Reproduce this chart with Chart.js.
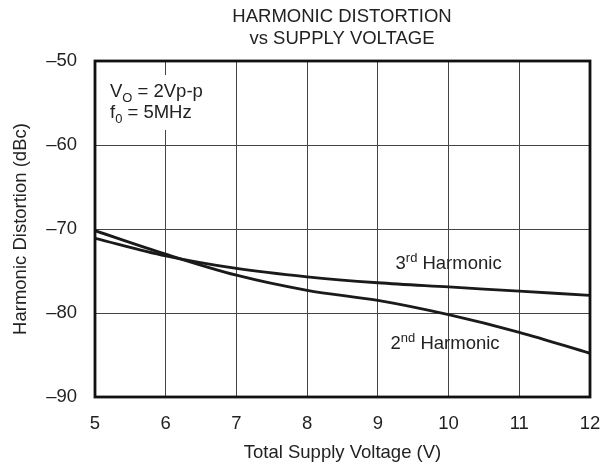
<!DOCTYPE html>
<html>
<head>
<meta charset="utf-8">
<script src="https://cdn.jsdelivr.net/npm/chart.js@4/dist/chart.umd.min.js"></script>
<style>
  html, body { margin: 0; padding: 0; background: #fff; }
  #wrap { width: 605px; height: 468px; }
</style>
</head>
<body>
<div id="wrap"><canvas id="c" width="605" height="468"></canvas></div>
<script>
const FONT = "'Liberation Sans', Arial, sans-serif";
const FS = 18.5;

// supply voltage (V)
const voltages = [5, 6, 7, 8, 9, 10, 11, 12];
// harmonic distortion (dBc)
const secondHarmonic = [-70.2, -73.0, -75.5, -77.3, -78.5, -80.2, -82.3, -84.8];
const thirdHarmonic  = [-71.1, -73.2, -74.7, -75.7, -76.4, -76.9, -77.4, -77.9];
const yTicks = [-50, -60, -70, -80, -90];

const titleLines = ['HARMONIC DISTORTION', 'vs SUPPLY VOLTAGE'];

const lineStyle = { borderColor: '#1a1a1a', borderWidth: 2.8, pointRadius: 0, fill: false, cubicInterpolationMode: 'monotone' };

// text with a raised (superscript) or lowered (subscript) piece: parts = [[text, shifted], ...]
function drawRich(ctx, parts, x, y, size, dir) {
  let cx = x;
  for (const [txt, shifted] of parts) {
    ctx.font = `${shifted ? size * 0.7 : size}px ${FONT}`;
    ctx.fillText(txt, cx, shifted ? y + dir * size * 0.33 : y);
    cx += ctx.measureText(txt).width;
  }
}

const decor = {
  id: 'decor',
  beforeDatasetsDraw(chart) {
    const { ctx } = chart;
    // white backing behind the conditions note
    ctx.save();
    ctx.fillStyle = '#fff';
    ctx.fillRect(104, 75, 108, 55);
    ctx.restore();
  },
  afterDraw(chart) {
    const { ctx, chartArea: a, scales } = chart;
    ctx.save();
    ctx.strokeStyle = '#111';
    ctx.lineWidth = 2.8;
    ctx.strokeRect(a.left, a.top, a.right - a.left, a.bottom - a.top);

    ctx.fillStyle = '#222';
    ctx.textBaseline = 'middle';
    ctx.textAlign = 'center';
    ctx.font = `${FS}px ${FONT}`;
    ctx.fillText(titleLines[0], 342, 17);
    ctx.fillText(titleLines[1], 342, 39);

    ctx.textAlign = 'left';
    drawRich(ctx, [['V', false], ['O', true], [' = 2Vp-p', false]], 110, 92, FS, 1);
    drawRich(ctx, [['f', false], ['0', true], [' = 5MHz', false]], 110, 113, FS, 1);

    const x = scales.x, y = scales.y;
    drawRich(ctx, [['3', false], ['rd', true], [' Harmonic', false]], x.getPixelForValue(9.25), y.getPixelForValue(-74.2), FS, -1);
    drawRich(ctx, [['2', false], ['nd', true], [' Harmonic', false]], x.getPixelForValue(9.18), y.getPixelForValue(-83.7), FS, -1);
    ctx.restore();
  }
};

new Chart(document.getElementById('c'), {
  type: 'line',
  data: {
    datasets: [
      { label: '2nd Harmonic', data: voltages.map((v, i) => ({ x: v, y: secondHarmonic[i] })), ...lineStyle },
      { label: '3rd Harmonic', data: voltages.map((v, i) => ({ x: v, y: thirdHarmonic[i] })), ...lineStyle },
    ],
  },
  options: {
    responsive: false,
    animation: false,
    layout: { padding: { top: 61, right: 15, left: 0, bottom: 0 } },
    plugins: { legend: { display: false }, tooltip: { enabled: false }, title: { display: false } },
    scales: {
      x: {
        type: 'linear', min: 5, max: 12,
        afterFit: (s) => { s.height = 71; s.paddingLeft = 0; s.paddingRight = 0; },
        afterBuildTicks: (s) => { s.ticks = voltages.map(v => ({ value: v })); },
        grid: { color: '#444', lineWidth: 1, drawTicks: false },
        border: { display: false },
        ticks: { color: '#222', font: { size: FS, family: FONT }, padding: 16, maxRotation: 0 },
        title: { display: true, text: 'Total Supply Voltage (V)', color: '#222', font: { size: FS, family: FONT }, padding: { top: 0, bottom: 4 } },
      },
      y: {
        min: -90, max: -50,
        afterFit: (s) => { s.width = 95; s.paddingTop = 0; s.paddingBottom = 0; },
        afterBuildTicks: (s) => { s.ticks = yTicks.map(v => ({ value: v })); },
        grid: { color: '#444', lineWidth: 1, drawTicks: false },
        border: { display: false },
        ticks: { color: '#222', font: { size: FS, family: FONT }, padding: 18, callback: (v) => '\u2013' + Math.abs(v) },
        title: { display: true, text: 'Harmonic Distortion (dBc)', color: '#222', font: { size: FS, family: FONT }, padding: { top: 10, bottom: 0 } },
      },
    },
  },
  plugins: [decor],
});
</script>
</body>
</html>
